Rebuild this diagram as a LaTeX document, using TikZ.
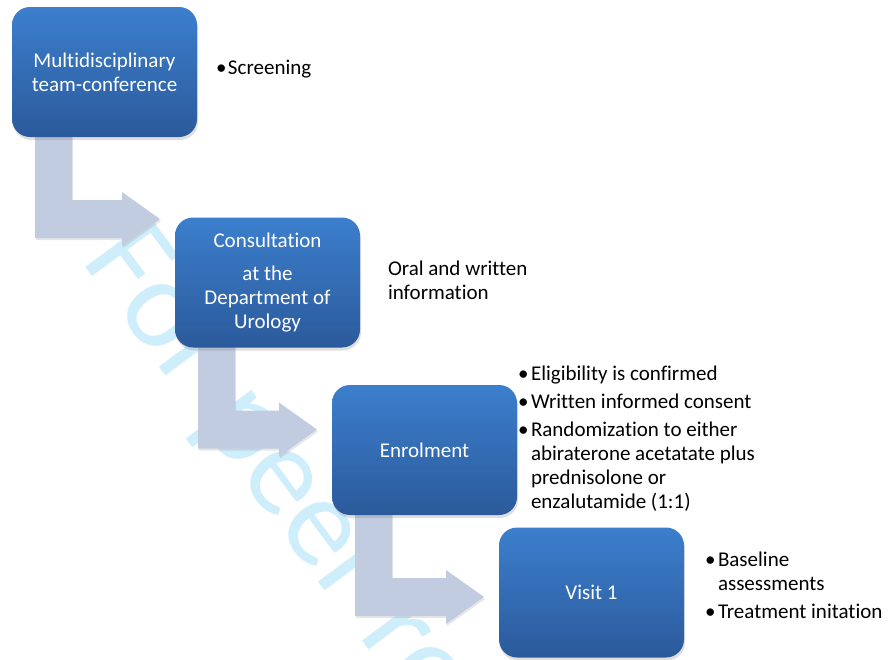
\documentclass[tikz,border=0pt]{standalone}
\usepackage{fontspec}
\setmainfont{Carlito}[Ligatures=NoCommon]
\usetikzlibrary{positioning, calc, shadows}

\definecolor{boxtop}{RGB}{60,127,205}
\definecolor{boxbot}{RGB}{43,90,155}
\definecolor{arrowgray}{RGB}{193,204,225}
\definecolor{wmcyan}{RGB}{207,238,251}

\pgfdeclarelayer{watermark}
\pgfdeclarelayer{arrows}
\pgfsetlayers{watermark,arrows,main}

% bent arrow from the bottom of one step to the left of the next
\newcommand{\flowarrow}[2]{%
  \path[flow] let \p1=(#1.south west), \p2=(#2.west) in
    (\x1+23pt,\y1+10pt) -- (\x1+23pt,\y1-101pt) -- (\x2-53pt,\y1-101pt)
    -- (\x2-53pt,\y1-109pt) -- (\x2-15pt,\y1-82pt) -- (\x2-53pt,\y1-55pt)
    -- (\x2-53pt,\y1-63pt) -- (\x1+60pt,\y1-63pt) -- (\x1+60pt,\y1+10pt) -- cycle;}

\begin{document}
\begin{tikzpicture}[x=1pt, y=-1pt,
    stepbox/.style={rectangle, rounded corners=18pt, minimum width=185pt, minimum height=130pt,
      inner sep=4pt, outer sep=0pt, top color=boxtop, bottom color=boxbot, text=white,
      align=center, font=\fontsize{21}{24}\selectfont,
      drop shadow={shadow xshift=1pt, shadow yshift=-3pt, opacity=0.25}},
    notes/.style={inner sep=0pt, outer sep=0pt, align=left, font=\fontsize{21}{24}\selectfont},
    flow/.style={fill=arrowgray, drop shadow={shadow xshift=1pt, shadow yshift=-2pt, opacity=0.2}}
  ]
  \useasboundingbox (0,0) rectangle (890,659);

  \node[stepbox] (mdt) at (104.5,72) {Multidisciplinary\\team-conference};
  \node[stepbox] (consult) at (267.5,282.5) {Consultation\\[9pt]at the\\Department of\\Urology};
  \node[stepbox] (enrol) at (424.5,450) {Enrolment};
  \node[stepbox] (visit) at (591.5,592.5) {Visit 1};

  \node[notes, right=19pt of mdt, yshift=2pt] (mdtnotes) {%
    \begin{tabular}{@{}p{12pt}@{}l@{}}\textbullet & Screening\end{tabular}};
  \node[notes, right=28pt of consult, yshift=2pt] (consultnotes) {Oral and written\\information};
  \node[notes, right=1pt of enrol, yshift=10pt] (enrolnotes) {%
    \begin{tabular}{@{}p{13pt}@{}p{240pt}@{}}
      \textbullet & Eligibility is confirmed\\[4pt]
      \textbullet & Written informed consent\\[4pt]
      \textbullet & Randomization to either\newline abiraterone acetatate plus\newline prednisolone or\newline enzalutamide (1:1)
    \end{tabular}};
  \node[notes, right=21pt of visit, yshift=5pt] (visitnotes) {%
    \begin{tabular}{@{}p{13pt}@{}p{175pt}@{}}
      \textbullet & Baseline\newline assessments\\[4pt]
      \textbullet & Treatment initation
    \end{tabular}};

  \begin{pgfonlayer}{arrows}
    \flowarrow{mdt}{consult}
    \flowarrow{consult}{enrol}
    \flowarrow{enrol}{visit}
  \end{pgfonlayer}

  \begin{pgfonlayer}{watermark}
    \begin{scope}
      \clip (0,0) rectangle (890,659);
      \node[overlay, anchor=base west, rotate=-53.5, inner sep=0pt, text=wmcyan,
        font=\fontsize{128}{128}\selectfont] (wm) at (80,260) {For peer review only};
    \end{scope}
  \end{pgfonlayer}
\end{tikzpicture}
\end{document}
